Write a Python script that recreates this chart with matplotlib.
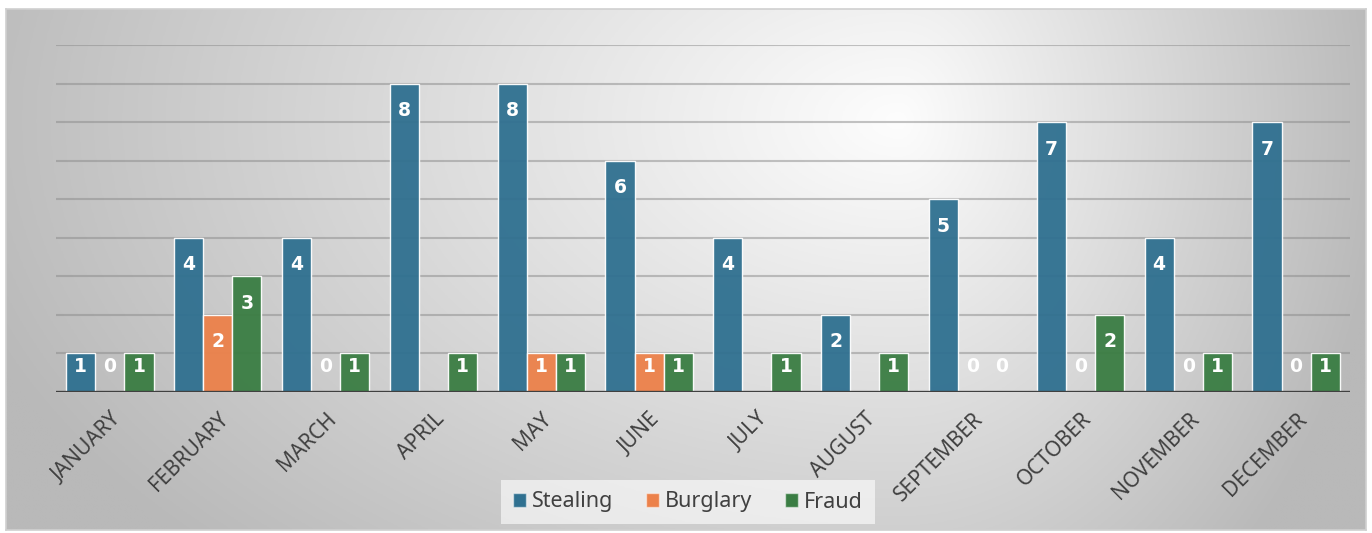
import numpy as np
import matplotlib
matplotlib.use("Agg")
import matplotlib.pyplot as plt
from matplotlib.patches import Patch

months = ["JANUARY", "FEBRUARY", "MARCH", "APRIL", "MAY", "JUNE", "JULY",
          "AUGUST", "SEPTEMBER", "OCTOBER", "NOVEMBER", "DECEMBER"]
stealing = [1, 4, 4, 8, 8, 6, 4, 2, 5, 7, 4, 7]
burglary = [0, 2, 0, np.nan, 1, 1, np.nan, np.nan, 0, 0, 0, 0]
fraud = [1, 3, 1, 1, 1, 1, 1, 1, 0, 2, 1, 1]
series_names = ["Stealing", "Burglary", "Fraud"]
colors = ["#2F7090", "#EC814A", "#3A7D43"]

plt.rcParams['font.family'] = ['Noto Sans', 'DejaVu Sans']

W, H = 1372, 533
fig = plt.figure(figsize=(W / 100, H / 100), dpi=100)
fig.patch.set_facecolor("white")

# background gradient panel
x0, y0, x1, y1 = 6, 9, 1366, 530
bg = fig.add_axes([x0 / W, 1 - y1 / H, (x1 - x0) / W, (y1 - y0) / H])
gx = np.linspace(x0, x1, 400)
gy = np.linspace(y0, y1, 200)
X, Y = np.meshgrid(gx, gy)
cx, cy = 900, 120
dx = np.where(X < cx, (X - cx) / (cx - x0), (X - cx) / (x1 - cx) * 1.05)
dy = (Y - cy) / 560
r = np.sqrt(dx ** 2 + dy ** 2)
val = 253 - 62 * np.clip(r, 0, 1.3)
val = np.clip(val, 185, 253) / 255
bg.imshow(np.dstack([val, val, val]), extent=[0, 1, 0, 1], aspect="auto", origin="upper")
bg.set_xlim(0, 1)
bg.set_ylim(0, 1)
bg.set_xticks([])
bg.set_yticks([])
for s in bg.spines.values():
    s.set_color("#d0d0d0")
    s.set_linewidth(1.2)

left, right = 56, 1350
top, bottom = 45, 392
ax = fig.add_axes([left / W, 1 - bottom / H, (right - left) / W, (bottom - top) / H])
ax.patch.set_alpha(0)
ax.set_ylim(0, 9)
ax.set_xlim(-0.5, 11.5)

xs = np.arange(len(months))
width = 0.27
data = [stealing, burglary, fraud]
lab_kw = dict(textcoords="offset points", ha="center", va="center", color="white",
              fontsize=13.5, fontweight="bold", zorder=5, family=["DejaVu Sans"])
for i, (vals, col, name) in enumerate(zip(data, colors, series_names)):
    off = (i - 1) * width
    for x, v in zip(xs, vals):
        if np.isnan(v):
            continue
        ax.bar(x + off, v, width, color=col, alpha=0.95, edgecolor=(1, 1, 1, 0.4),
               linewidth=1, zorder=3)
        if v >= 2:
            dy_pt = -19.5
        elif v == 1:
            dy_pt = -9.5
        else:
            dy_pt = 18
        ax.annotate(f"{int(v)}", (x + off, v), xytext=(0, dy_pt), **lab_kw)

for yv in range(1, 10):
    ax.axhline(yv, color="#8a8a8a", alpha=0.5, lw=1.5, zorder=1)
ax.axhline(0, color="#404040", lw=2.4, zorder=4)

for s in ax.spines.values():
    s.set_visible(False)
ax.set_yticks([])
ax.set_xticks(xs)
ax.set_xticklabels(months, rotation=45, ha="right", rotation_mode="anchor",
                   fontsize=15, color="#404040")
ax.tick_params(axis="x", length=0, pad=12)

handles = [Patch(facecolor=c, edgecolor=(1, 1, 1, 0.5), label=n) for c, n in zip(colors, series_names)]
leg = fig.legend(handles=handles, loc="center", bbox_to_anchor=(688 / W, 1 - 502 / H),
                 ncol=3, frameon=True, fontsize=15.5, handlelength=0.6, handleheight=0.6,
                 handletextpad=0.3, columnspacing=1.5, borderpad=0.55)
leg.get_frame().set_facecolor("white")
leg.get_frame().set_alpha(0.6)
leg.get_frame().set_edgecolor("none")
leg.get_frame().set_boxstyle("square", pad=0)
for t in leg.get_texts():
    t.set_color("#404040")

fig.savefig("out.png", dpi=100)
